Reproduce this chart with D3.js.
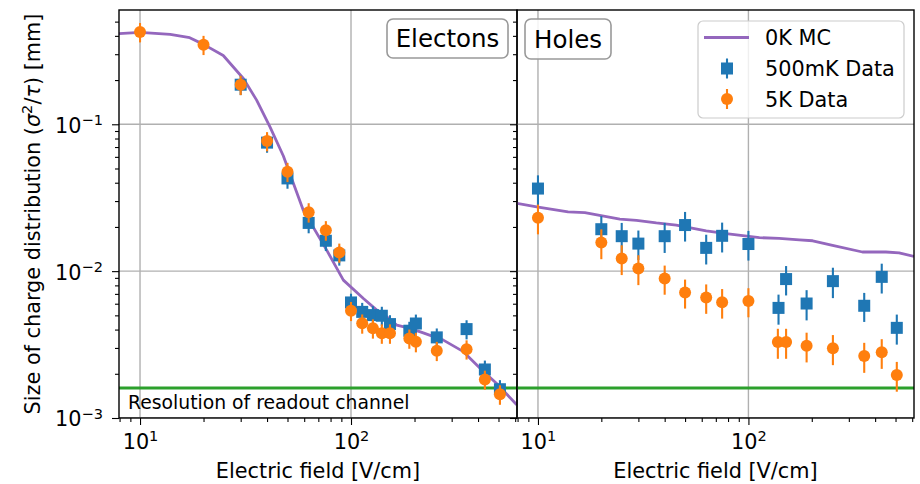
<!DOCTYPE html>
<html>
<head>
<meta charset="utf-8">
<script src="https://cdn.jsdelivr.net/npm/d3@7/dist/d3.min.js"></script>
<style>
    body { margin: 0; background: #fff; }
    svg { display: block; font-family: 'DejaVu Sans', sans-serif; }
</style>
</head>
<body>
<svg id="chart" width="920" height="484"></svg>
<script>
(() => {
    'use strict';

    // --- electrons: MC curve and measured points
    const elecMcField = [7.95, 10, 13.9, 17.2, 20, 24.8, 30.9, 35.7, 41.3, 47.8, 59.4, 76.7, 92, 114.5, 132.5, 147.7, 164.8, 190.5, 220, 274, 341, 409, 490, 610];
    const elecMcSize = [0.414, 0.423, 0.409, 0.389, 0.35, 0.294, 0.205, 0.146, 0.096, 0.0608, 0.026, 0.0139, 0.00869, 0.00651, 0.00543, 0.00489, 0.00429, 0.00408, 0.0038, 0.00339, 0.00283, 0.00218, 0.00172, 0.00123];

    const elec500Field = [30, 40, 50, 63, 76, 88, 100, 113, 127, 140, 153, 189, 203, 255, 353, 431, 508];
    const elec500Size = [0.186, 0.075, 0.0428, 0.0213, 0.0161, 0.0128, 0.00612, 0.00528, 0.00502, 0.00497, 0.00436, 0.00393, 0.0044, 0.00354, 0.00403, 0.00214, 0.00157];
    const elec500Err = [0.028, 0.011, 0.0064, 0.0032, 0.0024, 0.0019, 0.0009, 0.0008, 0.00075, 0.00075, 0.00065, 0.00059, 0.00066, 0.00053, 0.0006, 0.00032, 0.00024];

    const elec5kField = [10, 20, 30, 40, 50, 63, 76, 88, 100, 113, 127, 140, 153, 189, 203, 255, 353, 431, 508];
    const elec5kSize = [0.425, 0.348, 0.186, 0.0769, 0.0475, 0.0252, 0.019, 0.0134, 0.00537, 0.00441, 0.00408, 0.00377, 0.00377, 0.00348, 0.0033, 0.00287, 0.00294, 0.00183, 0.00145];
    const elec5kErr = [0.064, 0.052, 0.028, 0.0115, 0.0071, 0.0038, 0.0029, 0.002, 0.0008, 0.00066, 0.00061, 0.00057, 0.00057, 0.00052, 0.0005, 0.00043, 0.00044, 0.00027, 0.00022];

    // --- holes
    const holeMcField = [7.95, 9.86, 13.9, 16.7, 24.5, 29.4, 36.5, 45.4, 63, 78.4, 112.7, 140, 174.5, 202, 251, 348, 450, 520, 612];
    const holeMcSize = [0.0289, 0.0274, 0.0253, 0.025, 0.0226, 0.0222, 0.0213, 0.0206, 0.0188, 0.018, 0.0169, 0.0167, 0.0163, 0.0161, 0.015, 0.0135, 0.0135, 0.0133, 0.0126];

    const hole500Field = [10, 20, 25, 30, 40, 50, 63, 75, 100, 139, 151, 189, 252, 355, 430, 507];
    const hole500Size = [0.0365, 0.0193, 0.0173, 0.0154, 0.0173, 0.0206, 0.0144, 0.0174, 0.0153, 0.00562, 0.00883, 0.00602, 0.00855, 0.00581, 0.00914, 0.00411];
    const hole500Err = [0.0084, 0.0044, 0.004, 0.0035, 0.004, 0.0047, 0.0033, 0.004, 0.0035, 0.0013, 0.002, 0.0014, 0.002, 0.0013, 0.0021, 0.00095];

    const hole5kField = [10, 20, 25, 30, 40, 50, 63, 75, 100, 138, 151, 189, 252, 355, 430, 507];
    const hole5kSize = [0.0231, 0.01566, 0.0122, 0.01043, 0.00891, 0.00716, 0.00662, 0.00615, 0.00625, 0.00329, 0.00329, 0.0031, 0.00298, 0.00264, 0.0028, 0.00196];
    const hole5kErr = [0.0053, 0.0036, 0.0028, 0.0024, 0.002, 0.0016, 0.0015, 0.0014, 0.0014, 0.00076, 0.00076, 0.00071, 0.00069, 0.00061, 0.00064, 0.00045];

    const readoutRes = 1.6e-3;
    const xMajor = [10, 100];
    const xMinor = [8, 9, 20, 30, 40, 50, 60, 70, 80, 90, 200, 300, 400, 500, 600];
    const yMajor = [1e-3, 1e-2, 1e-1];
    const yMinor = [2e-3, 3e-3, 4e-3, 5e-3, 6e-3, 7e-3, 8e-3, 9e-3, 2e-2, 3e-2, 4e-2, 5e-2, 6e-2, 7e-2, 8e-2, 9e-2, 2e-1, 3e-1, 4e-1, 5e-1];
    const legendLabels = ['0K MC', '500mK Data', '5K Data'];

    const colors = { mc: '#9467bd', d500: '#1f77b4', d5k: '#ff7f0e', res: '#2ca02c', grid: '#b0b0b0' };
    const top = 10, bottom = 418;
    const fontSize = 20.8;

    const svg = d3.select('#chart');
    svg.append('rect').attr('width', 920).attr('height', 484).attr('fill', '#fff');

    const y = d3.scaleLog().domain([1e-3, 0.6]).range([bottom, top]);

    const panels = [
        { left: 119, right: 517, title: 'Electons', titleBox: [387, 19, 121, 39],
          mc: [elecMcField, elecMcSize],
          d500: [elec500Field, elec500Size, elec500Err],
          d5k: [elec5kField, elec5kSize, elec5kErr] },
        { left: 517, right: 914, title: 'Holes', titleBox: [525, 19, 86, 40],
          mc: [holeMcField, holeMcSize],
          d500: [hole500Field, hole500Size, hole500Err],
          d5k: [hole5kField, hole5kSize, hole5kErr] }
    ];

    const supLabel = (sel, expFn) => {
        sel.each(function(d) {
            const t = d3.select(this);
            t.text('10');
            t.append('tspan')
                .attr('dy', -7.6)
                .attr('font-size', fontSize * 0.7)
                .text(expFn(d));
        });
    };

    const drawErrorbars = (g, x, series, color, marker) => {
        const [fx, fy, fe] = series;
        const pts = fx.map((v, i) => ({ f: v, s: fy[i], e: fe[i] }));

        g.selectAll(null)
            .data(pts)
            .enter()
            .append('line')
            .attr('x1', d => x(d.f))
            .attr('x2', d => x(d.f))
            .attr('y1', d => y(d.s - d.e))
            .attr('y2', d => y(d.s + d.e))
            .attr('stroke', color)
            .attr('stroke-width', 2.1);

        if (marker === 'square') {
            g.selectAll(null)
                .data(pts)
                .enter()
                .append('rect')
                .attr('x', d => x(d.f) - 6)
                .attr('y', d => y(d.s) - 6)
                .attr('width', 12)
                .attr('height', 12)
                .attr('fill', color);
        } else {
            g.selectAll(null)
                .data(pts)
                .enter()
                .append('circle')
                .attr('cx', d => x(d.f))
                .attr('cy', d => y(d.s))
                .attr('r', 6)
                .attr('fill', color);
        }
    };

    panels.forEach((p, idx) => {
        const x = d3.scaleLog().domain([7.95, 612]).range([p.left, p.right]);
        const clipId = 'clip' + idx;

        svg.append('clipPath')
            .attr('id', clipId)
            .append('rect')
            .attr('x', p.left)
            .attr('y', top)
            .attr('width', p.right - p.left)
            .attr('height', bottom - top);

        const plot = svg.append('g').attr('clip-path', 'url(#' + clipId + ')');

        // grid
        plot.selectAll(null)
            .data(xMajor)
            .enter()
            .append('line')
            .attr('x1', d => x(d)).attr('x2', d => x(d))
            .attr('y1', top).attr('y2', bottom)
            .attr('stroke', colors.grid)
            .attr('stroke-width', 1.4);

        plot.selectAll(null)
            .data(yMajor)
            .enter()
            .append('line')
            .attr('x1', p.left).attr('x2', p.right)
            .attr('y1', d => y(d)).attr('y2', d => y(d))
            .attr('stroke', colors.grid)
            .attr('stroke-width', 1.4);

        // readout channel resolution
        plot.append('line')
            .attr('x1', p.left).attr('x2', p.right)
            .attr('y1', y(readoutRes)).attr('y2', y(readoutRes))
            .attr('stroke', colors.res)
            .attr('stroke-width', 2.8);

        // MC curve
        const line = d3.line()
            .x(d => x(d[0]))
            .y(d => y(d[1]));

        plot.append('path')
            .datum(p.mc[0].map((v, i) => [v, p.mc[1][i]]))
            .attr('d', line)
            .attr('fill', 'none')
            .attr('stroke', colors.mc)
            .attr('stroke-width', 2.8)
            .attr('stroke-linejoin', 'round');

        drawErrorbars(plot, x, p.d500, colors.d500, 'square');
        drawErrorbars(plot, x, p.d5k, colors.d5k, 'circle');

        // axes
        const xAxis = svg.append('g')
            .attr('transform', 'translate(0,' + bottom + ')')
            .call(d3.axisBottom(x).tickValues(xMajor).tickSize(7).tickPadding(9));
        supLabel(xAxis.selectAll('.tick text'), d => String(Math.round(Math.log10(d))));

        svg.append('g')
            .attr('transform', 'translate(0,' + bottom + ')')
            .call(d3.axisBottom(x).tickValues(xMinor).tickSize(4).tickFormat(''));

        const yAxis = svg.append('g')
            .attr('transform', 'translate(' + p.left + ',0)')
            .call(d3.axisLeft(y).tickValues(yMajor).tickSize(7).tickPadding(9));
        if (idx === 0) {
            supLabel(yAxis.selectAll('.tick text'), d => '\u2212' + Math.round(-Math.log10(d)));
            yAxis.selectAll('.tick text').attr('dy', '0.38em');
        } else {
            yAxis.selectAll('.tick text').remove();
        }

        svg.append('g')
            .attr('transform', 'translate(' + p.left + ',0)')
            .call(d3.axisLeft(y).tickValues(yMinor).tickSize(4).tickFormat(''));

        svg.selectAll('.domain').remove();
        svg.selectAll('.tick line').attr('stroke', '#000').attr('stroke-width', 1.1);
        svg.selectAll('.tick text')
            .attr('font-family', 'DejaVu Sans, sans-serif')
            .attr('font-size', fontSize)
            .attr('fill', '#000');

        // frame
        svg.append('rect')
            .attr('x', p.left).attr('y', top)
            .attr('width', p.right - p.left).attr('height', bottom - top)
            .attr('fill', 'none')
            .attr('stroke', '#000')
            .attr('stroke-width', 1.4);

        // x label
        svg.append('text')
            .attr('x', (p.left + p.right) / 2)
            .attr('y', 478)
            .attr('text-anchor', 'middle')
            .attr('font-size', fontSize)
            .text('Electric field [V/cm]');

        // title box
        const [bx, by, bw, bh] = p.titleBox;
        svg.append('rect')
            .attr('x', bx).attr('y', by)
            .attr('width', bw).attr('height', bh)
            .attr('rx', 6)
            .attr('fill', '#fff')
            .attr('fill-opacity', 0.85)
            .attr('stroke', '#999')
            .attr('stroke-width', 1.6);
        svg.append('text')
            .attr('x', bx + bw / 2)
            .attr('y', by + bh / 2 + 8.8)
            .attr('text-anchor', 'middle')
            .attr('font-size', 24.5)
            .text(p.title);

        if (idx === 0) {
            svg.append('text')
                .attr('x', 128)
                .attr('y', 408.5)
                .attr('font-size', 18.8)
                .text('Resolution of readout channel');
        }
    });

    // legend on the holes panel
    const legend = svg.append('g');
    legend.append('rect')
        .attr('x', 698).attr('y', 21)
        .attr('width', 206).attr('height', 97)
        .attr('rx', 5)
        .attr('fill', '#fff')
        .attr('fill-opacity', 0.8)
        .attr('stroke', '#ccc')
        .attr('stroke-width', 1.2);

    const rowY = [37.5, 68.5, 99];
    legend.append('line')
        .attr('x1', 704).attr('x2', 749)
        .attr('y1', rowY[0]).attr('y2', rowY[0])
        .attr('stroke', colors.mc)
        .attr('stroke-width', 2.8);

    legend.append('line')
        .attr('x1', 727).attr('x2', 727)
        .attr('y1', rowY[1] - 10).attr('y2', rowY[1] + 10)
        .attr('stroke', colors.d500).attr('stroke-width', 2.1);
    legend.append('rect')
        .attr('x', 721).attr('y', rowY[1] - 6)
        .attr('width', 12).attr('height', 12)
        .attr('fill', colors.d500);

    legend.append('line')
        .attr('x1', 727).attr('x2', 727)
        .attr('y1', rowY[2] - 10).attr('y2', rowY[2] + 10)
        .attr('stroke', colors.d5k).attr('stroke-width', 2.1);
    legend.append('circle')
        .attr('cx', 727).attr('cy', rowY[2])
        .attr('r', 6)
        .attr('fill', colors.d5k);

    legend.selectAll(null)
        .data(legendLabels)
        .enter()
        .append('text')
        .attr('x', 765)
        .attr('y', (d, i) => rowY[i] + 7.6)
        .attr('font-size', fontSize)
        .text(d => d);

    // y label with sigma^2 / tau
    const yLabel = svg.append('text')
        .attr('transform', 'translate(39.5,214) rotate(-90)')
        .attr('text-anchor', 'middle')
        .attr('font-size', fontSize);
    yLabel.append('tspan').text('Size of charge distribution (');
    yLabel.append('tspan').attr('font-style', 'italic').text('\u03c3');
    yLabel.append('tspan').attr('dy', -7.6).attr('font-size', fontSize * 0.7).text('2');
    yLabel.append('tspan').attr('dy', 7.6).text('/');
    yLabel.append('tspan').attr('font-style', 'italic').text('\u03c4');
    yLabel.append('tspan').text(') [mm]');
})();
</script>
</body>
</html>
